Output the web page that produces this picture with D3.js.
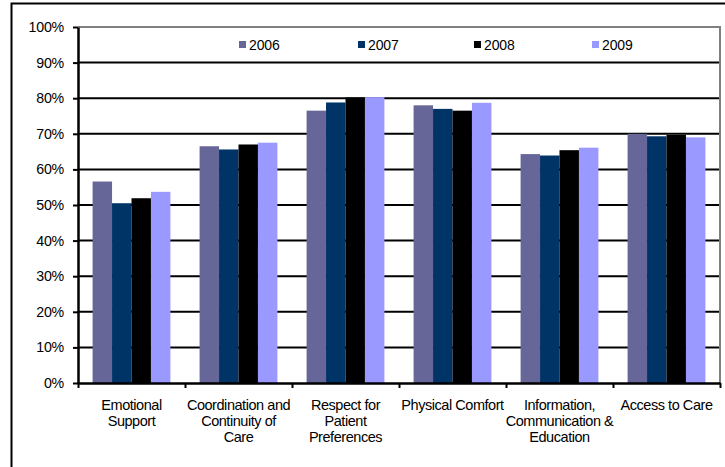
<!DOCTYPE html>
<html>
<head>
<meta charset="utf-8">
<script src="https://cdn.jsdelivr.net/npm/d3@7"></script>
<style>
  html, body { margin: 0; padding: 0; background: #fff; }
  svg { display: block; font-family: "Liberation Sans", Arial, sans-serif; }
</style>
</head>
<body>
<svg id="chart" width="725" height="467"></svg>
<script>
const categories = [
  ["Emotional", "Support"],
  ["Coordination and", "Continuity of", "Care"],
  ["Respect for", "Patient", "Preferences"],
  ["Physical Comfort"],
  ["Information,", "Communication &", "Education"],
  ["Access to Care"]
];
const years = ["2006", "2007", "2008", "2009"];
const values2006 = [0.566, 0.665, 0.765, 0.780, 0.643, 0.700];
const values2007 = [0.505, 0.656, 0.788, 0.770, 0.639, 0.693];
const values2008 = [0.519, 0.670, 0.802, 0.765, 0.654, 0.697];
const values2009 = [0.537, 0.675, 0.803, 0.787, 0.661, 0.690];
const colors = ["#666699", "#003366", "#000000", "#9999FF"];
const yTicks = [0, 0.1, 0.2, 0.3, 0.4, 0.5, 0.6, 0.7, 0.8, 0.9, 1.0];

const series = [values2006, values2007, values2008, values2009];
const svg = d3.select("#chart");

// outer chart border
svg.append("rect").attr("x", 11.5).attr("y", 3.5).attr("width", 720).attr("height", 470)
  .attr("fill", "none").attr("stroke", "#000").attr("stroke-width", 2);

const pLeft = 78, pRight = 720, pTop = 27, pBottom = 383;
const x0 = d3.scaleBand().domain(d3.range(categories.length)).range([pLeft, pRight]).paddingInner(0).paddingOuter(0);
const innerPad = (1.5 / 5.5);
const x1 = d3.scaleBand().domain(d3.range(years.length))
  .range([x0.bandwidth() * innerPad / 2, x0.bandwidth() * (1 - innerPad / 2)]);
const y = d3.scaleLinear().domain([0, 1]).range([pBottom, pTop]);

// gridlines
svg.append("g").selectAll("line").data(yTicks.slice(1, -1)).join("line")
  .attr("x1", pLeft).attr("x2", pRight)
  .attr("y1", d => y(d)).attr("y2", d => y(d))
  .attr("stroke", "#000").attr("stroke-width", 2);

// plot area border (top/right gray)
svg.append("path")
  .attr("d", `M${pLeft},${y(1)}H${pRight}V${pBottom}`)
  .attr("fill", "none").attr("stroke", "#808080").attr("stroke-width", 2);

// bars
const groups = svg.append("g").selectAll("g").data(categories).join("g")
  .attr("transform", (d, i) => `translate(${x0(i)},0)`);
groups.selectAll("rect").data((d, i) => series.map((s, k) => ({k, v: s[i]}))).join("rect")
  .attr("x", d => x1(d.k))
  .attr("width", x1.bandwidth())
  .attr("y", d => y(d.v))
  .attr("height", d => y(0) - y(d.v))
  .attr("fill", d => colors[d.k]);

// y axis
const yAxis = d3.axisLeft(y).tickValues(yTicks).tickFormat(d3.format(".0%")).tickSize(5).tickSizeOuter(0);
const gy = svg.append("g").attr("transform", `translate(${pLeft},0)`).call(yAxis);
gy.select(".domain").attr("stroke", "#000").attr("stroke-width", 2.5);
gy.selectAll(".tick line").attr("stroke", "#000").attr("stroke-width", 2);
gy.selectAll(".tick text").attr("x", -14).attr("font-size", 14.2).attr("fill", "#000")
  .attr("font-family", "Liberation Sans, Arial, sans-serif").attr("letter-spacing", -0.2);

// x axis
const xEdge = d3.scaleLinear().domain([0, categories.length]).range([pLeft, pRight]);
const xAxis = d3.axisBottom(xEdge).tickValues(d3.range(categories.length + 1)).tickSize(5).tickFormat("").tickSizeOuter(0);
const gx = svg.append("g").attr("transform", `translate(0,${pBottom})`).call(xAxis);
gx.select(".domain").attr("stroke", "#000").attr("stroke-width", 2.5);
gx.selectAll(".tick line").attr("stroke", "#000").attr("stroke-width", 2);

// category labels
const labels = svg.append("g").selectAll("text").data(categories).join("text")
  .attr("x", (d, i) => x0(i) + x0.bandwidth() / 2)
  .attr("y", 410)
  .attr("text-anchor", "middle")
  .attr("font-size", 14.5)
  .attr("letter-spacing", -0.45)
  .attr("fill", "#000");
labels.selectAll("tspan").data(d => d).join("tspan")
  .attr("x", function() { return d3.select(this.parentNode).attr("x"); })
  .attr("dy", (d, j) => j === 0 ? 0 : 16)
  .text(d => d);

// legend
const legendX = [239, 358, 474, 592];
const lg = svg.append("g").selectAll("g").data(years).join("g")
  .attr("transform", (d, i) => `translate(${legendX[i]},45)`);
lg.append("rect").attr("x", 0).attr("y", -4).attr("width", 7).attr("height", 7)
  .attr("fill", (d, i) => colors[i]);
lg.append("text").attr("x", 10).attr("y", 5).attr("font-size", 14).attr("letter-spacing", -0.1)
  .attr("fill", "#000").text(d => d);
</script>
</body>
</html>
